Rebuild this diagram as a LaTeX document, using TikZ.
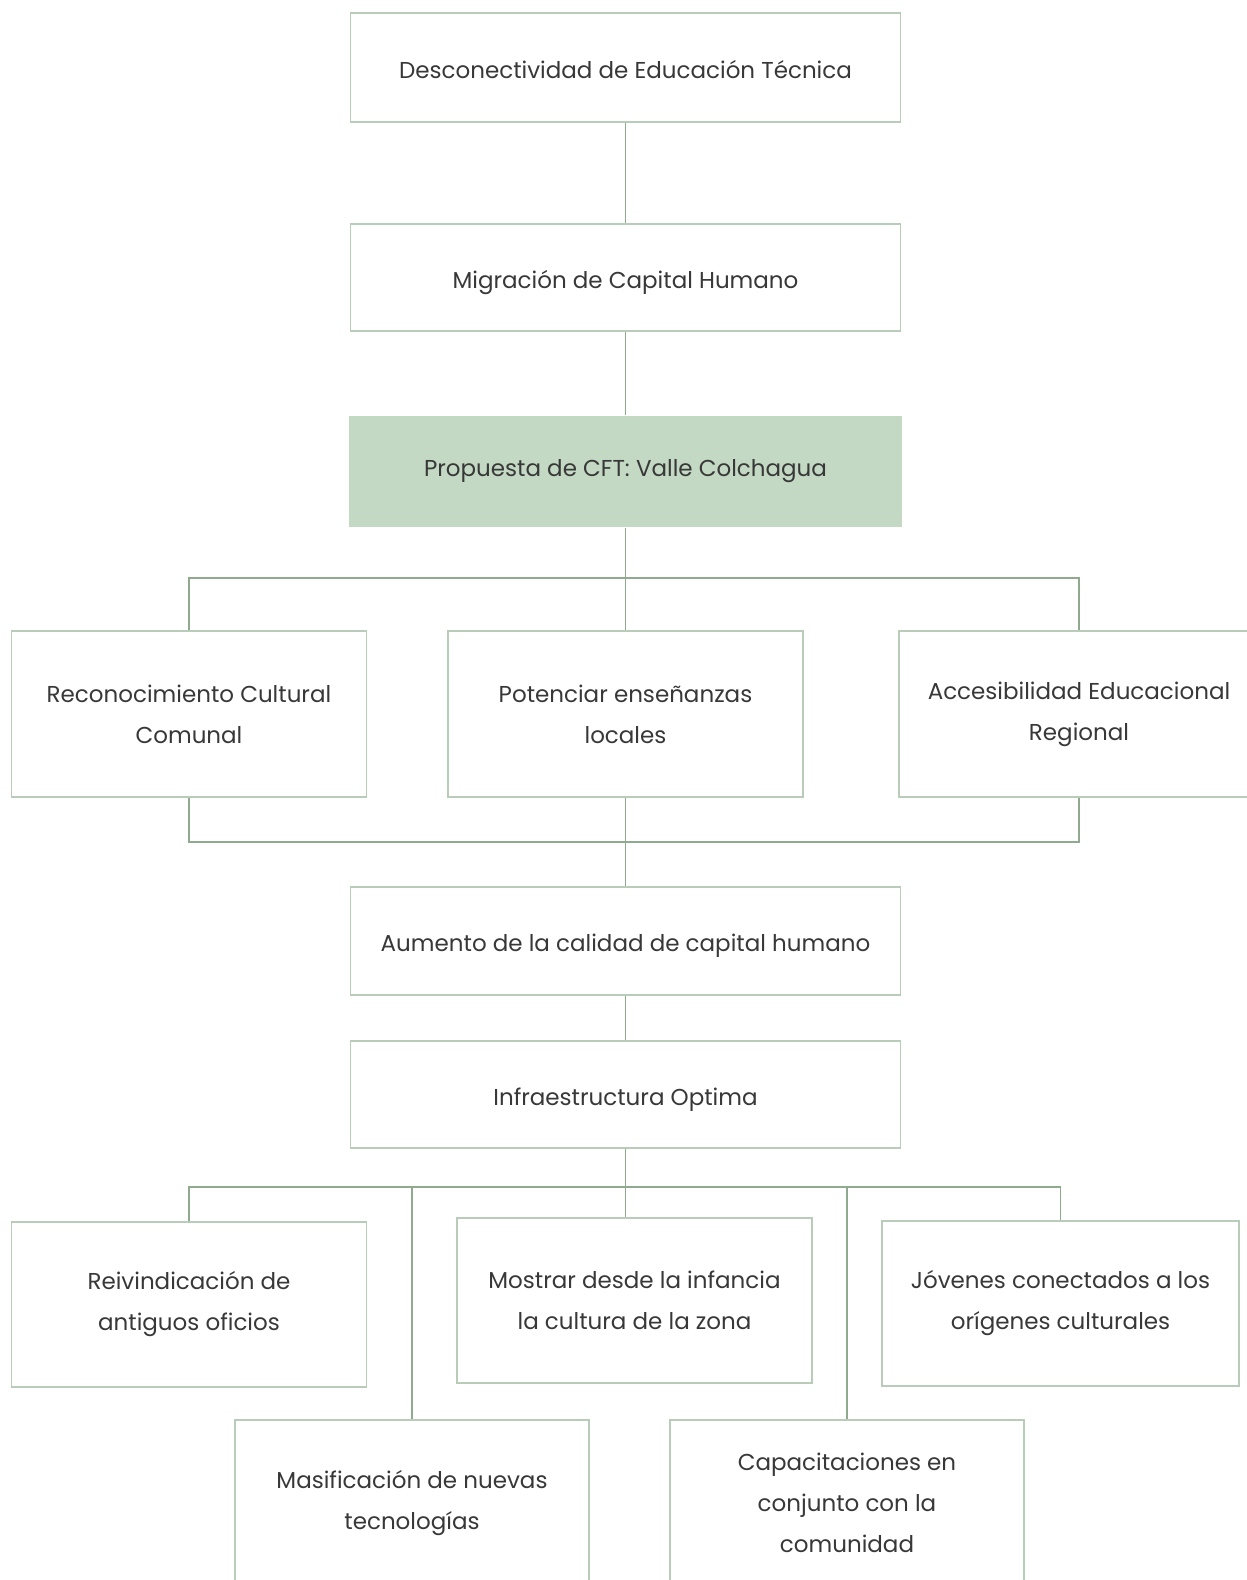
\documentclass[tikz,border=0pt]{standalone}
\usepackage{fontspec}
\setmainfont{Poppins}
\definecolor{boxc}{HTML}{B9CCB9}
\definecolor{linec}{HTML}{8FAA8F}
\definecolor{fillc}{HTML}{C3D9C3}
\definecolor{txt}{HTML}{383838}
\begin{document}
\begin{tikzpicture}[x=1pt,y=1pt,
  box/.style={draw=boxc, line width=1.4pt, fill=white, inner sep=0pt, align=center,
    text=txt, font=\fontsize{23}{41}\selectfont, minimum width=#1},
  box/.default=550pt,
  oneline/.style={text height=21pt, text depth=0pt},
  conn/.style={draw=linec, line width=1.1pt}]
\clip (0,0) rectangle (1247,-1580);
\fill[white] (0,0) rectangle (1247,-1580);
% nodes
\node[box, oneline, minimum height=109pt] (d1) at (625.5,-67.5) {Desconectividad de Educación Técnica};
\node[box, oneline, minimum height=107pt] (d2) at (625.5,-277.5) {Migración de Capital Humano};
\node[box=553pt, minimum height=111pt, fill=fillc, draw=none] (prop) at (625.5,-471.5) {Propuesta de CFT: Valle Colchagua};
\node[box=355pt, minimum height=166pt] (rec) at (189,-714) {Reconocimiento Cultural\\Comunal};
\node[box=355pt, minimum height=166pt] (pot) at (625.5,-714) {Potenciar enseñanzas\\locales};
\node[box=360pt, minimum height=166pt] (acc) at (1079,-714) {Accesibilidad Educacional\\Regional};
\node[box, oneline, minimum height=108pt] (aum) at (625.5,-941) {Aumento de la calidad de capital humano};
\node[box, oneline, minimum height=107pt] (inf) at (625.5,-1094.5) {Infraestructura Optima};
\node[box=355pt, minimum height=165pt] (rei) at (189,-1304.5) {Reivindicación de\\antiguos oficios};
\node[box=355pt, minimum height=165pt] (mos) at (634.5,-1300.5) {Mostrar desde la infancia\\la cultura de la zona};
\node[box=357pt, minimum height=165pt] (jov) at (1060.5,-1303.5) {Jóvenes conectados a los\\orígenes culturales};
\node[box=354pt, minimum height=166pt] (mas) at (412,-1503) {Masificación de nuevas\\tecnologías};
\node[box=354pt, minimum height=166pt] (cap) at (847,-1503) {Capacitaciones en\\conjunto con la\\comunidad};
% coordinates for brackets
\coordinate (t1) at (625.5,-578);
\coordinate (t2) at (625.5,-842);
\coordinate (t3) at (625.5,-1187);
% connectors
\draw[conn] (d1.south) -- (d2.north);
\draw[conn] (d2.south) -- (prop.north);
\draw[conn] (prop.south) -- (pot.north);
\draw[conn] (rec.north) |- (t1) -| (acc.north);
\draw[conn] (rec.south) |- (t2) -| (acc.south);
\draw[conn] (pot.south) -- (aum.north);
\draw[conn] (aum.south) -- (inf.north);
\draw[conn] (rei.north) |- (t3) -| (jov.north);
\draw[conn] (inf.south) -- (inf.south |- mos.north);
\draw[conn] (mas.north) -- (mas.north |- t3);
\draw[conn] (cap.north) -- (cap.north |- t3);
\end{tikzpicture}
\end{document}
